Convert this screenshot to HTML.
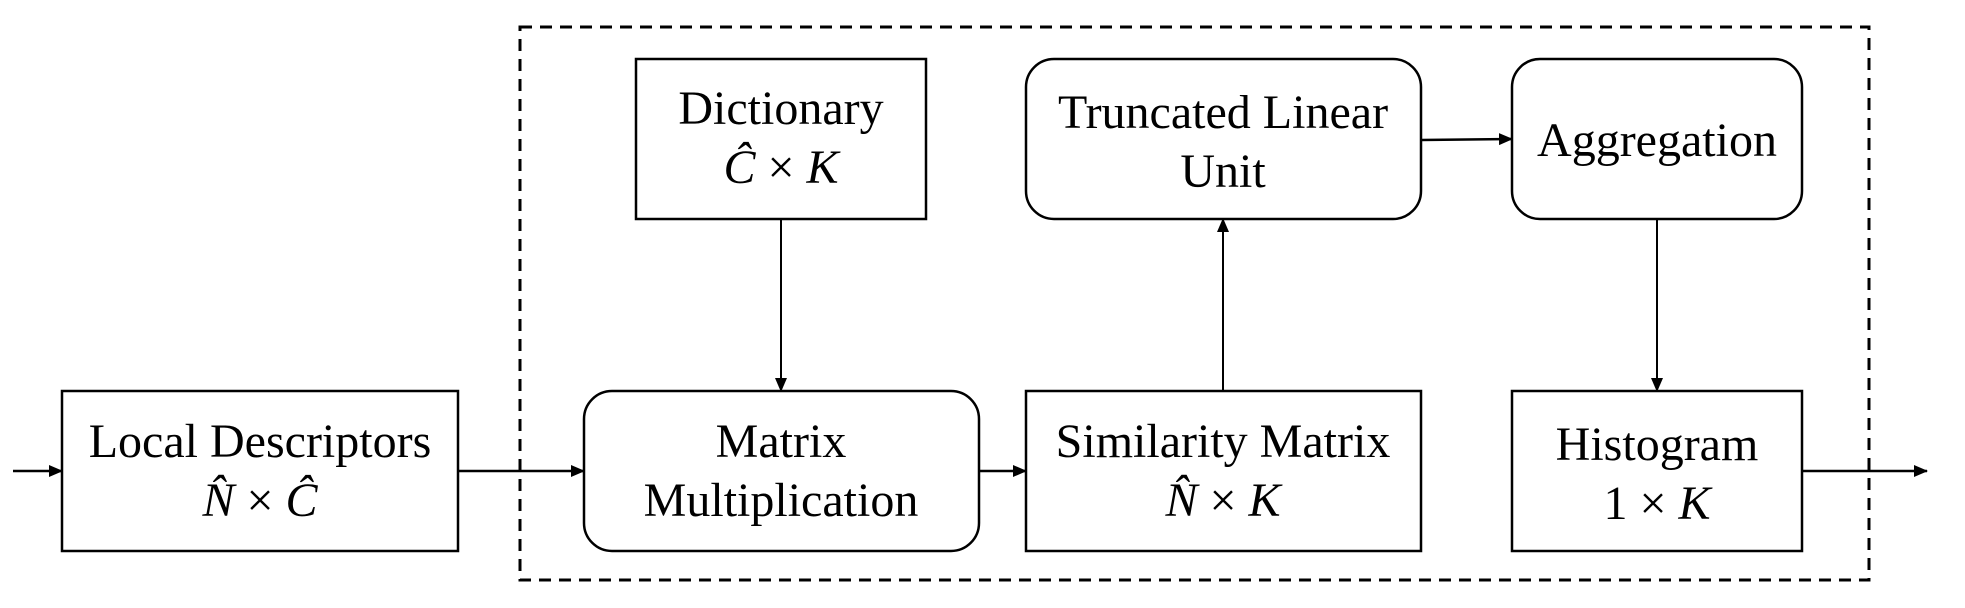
<!DOCTYPE html>
<html><head><style>
html,body{margin:0;padding:0;background:#fff;}
svg{display:block;}
text{font-family:"Liberation Serif",serif;font-size:48px;fill:#000;}
.m{font-style:italic;}
</style></head><body>
<svg width="1965" height="608" viewBox="0 0 1965 608" xmlns="http://www.w3.org/2000/svg">
<defs>
<marker id="b" markerWidth="14" markerHeight="14" refX="13" refY="7" orient="auto" markerUnits="userSpaceOnUse">
<path d="M0,1 L14,7 L0,13 z" fill="#000"/>
</marker>
</defs>
<rect x="520" y="27" width="1349" height="553" fill="none" stroke="#000" stroke-width="3" stroke-dasharray="12,8"/>
<g fill="#fff" stroke="#000" stroke-width="2.5">
<rect x="62" y="391" width="396" height="160"/>
<rect x="636" y="59" width="290" height="160"/>
<rect x="584" y="391" width="395" height="160" rx="28"/>
<rect x="1026" y="59" width="395" height="160" rx="28"/>
<rect x="1512" y="59" width="290" height="160" rx="28"/>
<rect x="1026" y="391" width="395" height="160"/>
<rect x="1512" y="391" width="290" height="160"/>
</g>
<g stroke="#000" stroke-width="2.5" fill="none">
<line x1="13" y1="471" x2="62" y2="471" marker-end="url(#b)"/>
<line x1="458" y1="471" x2="584" y2="471" marker-end="url(#b)"/>
<line x1="979" y1="471" x2="1026" y2="471" marker-end="url(#b)"/>
<line x1="1802" y1="471" x2="1927" y2="471" marker-end="url(#b)"/>
<line x1="781" y1="219" x2="781" y2="391" stroke-width="2" marker-end="url(#b)"/>
<line x1="1223" y1="391" x2="1223" y2="219" stroke-width="2" marker-end="url(#b)"/>
<line x1="1657" y1="219" x2="1657" y2="391" stroke-width="2" marker-end="url(#b)"/>
<line x1="1421" y1="140" x2="1512" y2="139" marker-end="url(#b)"/>
</g>
<g text-anchor="middle">
<text x="260" y="457">Local Descriptors</text>
<text x="260" y="516"><tspan class="m">N̂</tspan> × <tspan class="m">Ĉ</tspan></text>
<text x="781" y="124">Dictionary</text>
<text x="781" y="183"><tspan class="m">Ĉ</tspan>  × <tspan class="m">K</tspan></text>
<text x="781" y="457">Matrix</text>
<text x="781" y="516">Multiplication</text>
<text x="1223" y="128">Truncated Linear</text>
<text x="1223" y="187">Unit</text>
<text x="1657" y="156">Aggregation</text>
<text x="1223" y="457">Similarity Matrix</text>
<text x="1223" y="516"><tspan class="m">N̂</tspan> × <tspan class="m">K</tspan></text>
<text x="1657" y="460">Histogram</text>
<text x="1657" y="519">1 × <tspan class="m">K</tspan></text>
</g>
</svg>
</body></html>
